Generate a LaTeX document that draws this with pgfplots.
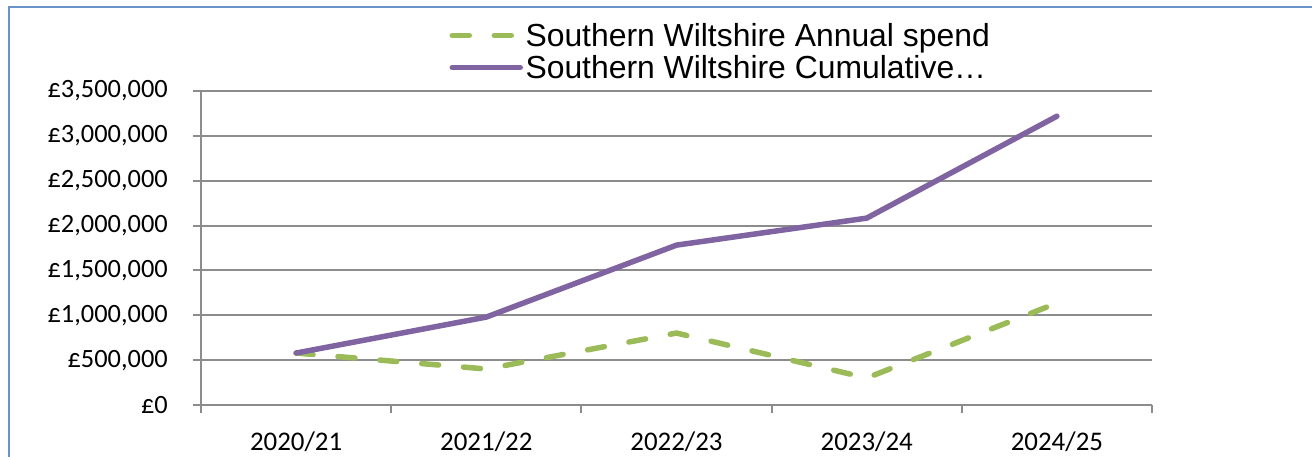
\documentclass[border=0pt]{standalone}
\usepackage{pgfplots}
\pgfplotsset{compat=1.18}
\usepackage{fontspec}
\setmainfont{Carlito}
\newfontfamily\arialfont{Liberation Sans}
\definecolor{cumul}{HTML}{8064A2}
\definecolor{annual}{HTML}{9BBB59}
\definecolor{gridc}{HTML}{8C8C8C}
\definecolor{framec}{HTML}{6A93C9}
\begin{document}
\begin{tikzpicture}[x=1bp,y=1bp]
\useasboundingbox (0,0) rectangle (1312,457);
\draw[framec, line width=2bp] (9,-5) -- (9,450) -- (1320,450);
\begin{axis}[
  at={(201bp,52bp)}, anchor=south west,
  scale only axis, width=951bp, height=314bp,
  xmin=0.5, xmax=5.5, ymin=0, ymax=3500000,
  axis x line*=bottom, axis y line*=left,
  axis line style={gridc, line width=2bp, -},
  xtick={1,2,3,4,5},
  xticklabels={2020/21,2021/22,2022/23,2023/24,2024/25},
  minor xtick={0.5,1.5,2.5,3.5,4.5,5.5},
  major x tick style={draw=none},
  minor x tick style={gridc, line width=2bp},
  minor tick length=8bp,
  major tick length=8bp,
  tick align=outside,
  y tick style={gridc, line width=2bp},
  ytick={0,500000,1000000,1500000,2000000,2500000,3000000,3500000},
  yticklabels={{£0},{£500,000},{£1,000,000},{£1,500,000},{£2,000,000},{£2,500,000},{£3,000,000},{£3,500,000}},
  scaled y ticks=false,
  ymajorgrids, grid style={gridc, line width=2bp},
  xticklabel style={font=\fontsize{27}{30}\selectfont, inner sep=0pt, anchor=north, text height=17bp, text depth=5bp, yshift=-20bp},
  yticklabel style={font=\fontsize{26.5}{30}\selectfont, inner sep=0pt, anchor=east, xshift=-25bp},
  clip=false,
  legend style={at={(0.2587,1.215)}, anchor=north west, draw=none, fill=none,
    inner sep=0pt, outer sep=0pt,
    font=\arialfont\fontsize{32}{32}\selectfont,
    nodes={inner sep=0pt, text height=23bp, text depth=9bp},
    /tikz/every even column/.append style={column sep=7bp}},
  legend cell align=left,
  legend image code/.code={\path (0bp,0bp) (73bp,0bp); \draw[#1,dash phase=0bp] (2.5bp,4bp) -- (70.5bp,4bp);},
]
\addplot[annual, line width=5.5bp, line cap=round, dash pattern=on 17bp off 25bp]
  coordinates {(1,579000)(2,401000)(3,802000)(4,301000)(5,1136000)};
\addlegendentry{Southern Wiltshire Annual spend}
\addplot[cumul, line width=5.5bp, line cap=round]
  coordinates {(1,579000)(2,980000)(3,1782000)(4,2083000)(5,3219000)};
\addlegendentry{Southern Wiltshire Cumulative…}
\end{axis}
\end{tikzpicture}
\end{document}
